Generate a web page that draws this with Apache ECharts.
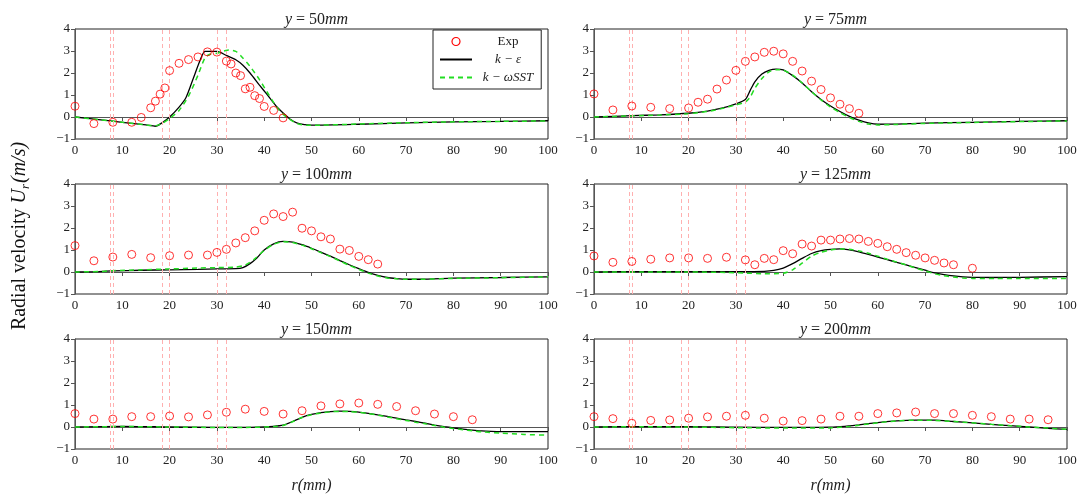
<!DOCTYPE html>
<html>
<head>
<meta charset="utf-8">
<script src="https://cdn.jsdelivr.net/npm/echarts@6/dist/echarts.min.js"></script>
<style>
  html, body { margin: 0; padding: 0; background: #fff; }
  #main { width: 1084px; height: 498px; }
</style>
</head>
<body>
<div id="main"></div>
<script>
// measured planes (mm) and vertical reference lines
var planes = ['50', '75', '100', '125', '150', '200'];
var refLines = [7.5, 8, 18.5, 20, 30, 32];

// experiment points [r, Ur]
var exp50 = [[0,0.49],[4,-0.30],[8,-0.24],[12,-0.24],[14,-0.02],[16,0.42],[17,0.72],[18,1.04],[19,1.32],[20,2.11],[22,2.44],[24,2.61],[26,2.73],[28,2.96],[30,2.95],[32,2.54],[33,2.41],[34,2.00],[35,1.88],[36,1.28],[37,1.35],[38,0.97],[39,0.84],[40,0.48],[42,0.30],[44,-0.04]];
var exp75 = [[0,1.05],[4,0.32],[8,0.50],[12,0.44],[16,0.38],[20,0.41],[22,0.67],[24,0.81],[26,1.27],[28,1.68],[30,2.12],[32,2.53],[34,2.73],[36,2.94],[38,2.99],[40,2.87],[42,2.53],[44,2.09],[46,1.63],[48,1.25],[50,0.87],[52,0.58],[54,0.38],[56,0.17]];
var exp100 = [[0,1.20],[4,0.51],[8,0.68],[12,0.80],[16,0.65],[20,0.74],[24,0.77],[28,0.77],[30,0.89],[32,1.03],[34,1.32],[36,1.56],[38,1.87],[40,2.35],[42,2.64],[44,2.52],[46,2.72],[48,1.99],[50,1.87],[52,1.60],[54,1.50],[56,1.04],[58,0.98],[60,0.71],[62,0.56],[64,0.36]];
var exp125 = [[0,0.73],[4,0.44],[8,0.48],[12,0.58],[16,0.64],[20,0.64],[24,0.62],[28,0.67],[32,0.55],[34,0.33],[36,0.62],[38,0.56],[40,0.97],[42,0.83],[44,1.27],[46,1.18],[48,1.45],[50,1.45],[52,1.50],[54,1.52],[56,1.50],[58,1.39],[60,1.30],[62,1.15],[64,1.03],[66,0.88],[68,0.76],[70,0.64],[72,0.53],[74,0.41],[76,0.33],[80,0.17]];
var exp150 = [[0,0.61],[4,0.36],[8,0.36],[12,0.47],[16,0.47],[20,0.50],[24,0.46],[28,0.55],[32,0.67],[36,0.81],[40,0.71],[44,0.59],[48,0.74],[52,0.96],[56,1.05],[60,1.09],[64,1.03],[68,0.93],[72,0.74],[76,0.59],[80,0.47],[84,0.33]];
var exp200 = [[0,0.47],[4,0.38],[8,0.17],[12,0.30],[16,0.32],[20,0.40],[24,0.46],[28,0.49],[32,0.53],[36,0.40],[40,0.27],[44,0.29],[48,0.36],[52,0.49],[56,0.49],[60,0.61],[64,0.64],[68,0.68],[72,0.61],[76,0.61],[80,0.53],[84,0.47],[88,0.36],[92,0.36],[96,0.33]];

// k-epsilon model
var ke50 = [[0,0],[5,-0.12],[10,-0.24],[15,-0.36],[17,-0.42],[18.5,-0.25],[20,0],[22,0.45],[23.5,0.9],[25,1.75],[26.5,2.6],[27.5,2.98],[30,2.98],[32,2.8],[34,2.6],[35.5,2.35],[37,2.0],[39,1.45],[40.5,1.05],[42.5,0.5],[44,0.18],[45.5,-0.1],[47,-0.28],[48.5,-0.35],[50,-0.37],[60,-0.33],[70,-0.27],[80,-0.22],[90,-0.2],[100,-0.17]];
var ke75 = [[0,0],[8,0.06],[14,0.1],[20,0.17],[24,0.27],[27,0.4],[30,0.6],[32,0.8],[33,1.2],[34,1.6],[35.5,1.95],[37,2.12],[38.5,2.18],[40,2.14],[42,1.88],[44,1.55],[46,1.15],[48,0.8],[50,0.5],[52,0.25],[54,0.03],[56,-0.14],[58,-0.27],[60,-0.33],[64,-0.32],[70,-0.28],[80,-0.24],[90,-0.2],[100,-0.17]];
var ke100 = [[0,0],[5,0.02],[8,0.05],[14,0.08],[20,0.1],[26,0.12],[30,0.14],[34,0.15],[35.5,0.2],[37,0.38],[38.5,0.65],[40,1.0],[42,1.28],[44,1.39],[46,1.36],[48,1.24],[50,1.08],[52,0.9],[54,0.72],[56,0.52],[58,0.33],[60,0.15],[62,-0.02],[64,-0.15],[66,-0.25],[68,-0.3],[70,-0.33],[73,-0.33],[80,-0.28],[90,-0.25],[100,-0.22]];
var ke125 = [[0,0],[10,0.02],[20,0.02],[30,0.02],[36,0.03],[38,0.07],[40,0.18],[42,0.38],[44,0.62],[46,0.84],[48,0.97],[50,1.03],[52,1.05],[54,1.01],[56,0.92],[58,0.8],[60,0.68],[62,0.56],[64,0.44],[66,0.32],[68,0.2],[70,0.08],[72,-0.04],[74,-0.12],[76,-0.18],[78,-0.22],[80,-0.24],[84,-0.25],[90,-0.24],[100,-0.21]];
var ke150 = [[0,0],[10,0.03],[20,0],[30,-0.02],[36,-0.02],[42,0.03],[44,0.08],[46,0.25],[48,0.44],[50,0.57],[52,0.65],[54,0.7],[56,0.72],[58,0.71],[60,0.68],[62,0.62],[64,0.55],[66,0.48],[68,0.4],[70,0.32],[72,0.25],[74,0.17],[76,0.09],[78,0.02],[80,-0.04],[82,-0.1],[84,-0.14],[86,-0.18],[88,-0.2],[90,-0.21],[100,-0.21]];
var ke200 = [[0,0],[10,0.02],[20,0.02],[30,-0.01],[40,-0.02],[50,-0.01],[53,0.03],[56,0.1],[60,0.2],[64,0.28],[68,0.31],[72,0.31],[76,0.25],[80,0.19],[84,0.12],[88,0.06],[92,0],[96,-0.06],[100,-0.11]];

// k-omega SST model
var sst50 = [[0,0],[5,-0.12],[10,-0.24],[15,-0.36],[17,-0.4],[18.5,-0.28],[20,-0.07],[22,0.3],[24,0.95],[26,1.9],[27.5,2.7],[28.5,2.85],[30,2.9],[31.5,3.0],[32.5,3.05],[34,2.98],[35,2.8],[37,2.3],[39,1.7],[41,1.0],[43,0.35],[45,-0.05],[47,-0.3],[49,-0.38],[52,-0.37],[60,-0.32],[70,-0.26],[80,-0.22],[90,-0.2],[100,-0.18]];
var sst75 = [[0,0],[8,0.05],[14,0.09],[20,0.15],[24,0.25],[27,0.38],[30,0.55],[32,0.68],[33,0.9],[34,1.3],[35.5,1.75],[37,2.05],[38.5,2.15],[40,2.13],[42,1.9],[44,1.55],[46,1.15],[48,0.78],[50,0.45],[52,0.2],[54,-0.02],[56,-0.2],[58,-0.32],[60,-0.36],[64,-0.34],[70,-0.29],[80,-0.25],[90,-0.21],[100,-0.18]];
var sst100 = [[0,0],[5,0.02],[8,0.06],[14,0.1],[20,0.14],[26,0.18],[30,0.2],[34,0.22],[36,0.32],[38,0.6],[40,0.98],[42,1.26],[44,1.37],[46,1.34],[48,1.22],[50,1.06],[52,0.88],[54,0.7],[56,0.5],[58,0.3],[60,0.12],[62,-0.05],[64,-0.18],[66,-0.27],[68,-0.31],[70,-0.33],[73,-0.33],[80,-0.29],[90,-0.26],[100,-0.22]];
var sst125 = [[0,0],[10,0],[20,0],[28,-0.02],[32,-0.05],[36,-0.08],[40,-0.06],[42,0.1],[44,0.4],[46,0.72],[48,0.9],[50,1.0],[52,1.05],[54,1.03],[56,0.96],[58,0.85],[60,0.72],[62,0.58],[64,0.45],[66,0.32],[68,0.18],[70,0.05],[72,-0.08],[74,-0.17],[76,-0.23],[78,-0.27],[80,-0.29],[85,-0.3],[90,-0.3],[100,-0.29]];
var sst150 = [[0,0],[10,0.02],[20,0],[30,-0.02],[36,-0.02],[42,0.02],[44,0.07],[46,0.24],[48,0.43],[50,0.56],[52,0.64],[54,0.69],[56,0.71],[58,0.7],[60,0.67],[62,0.61],[64,0.54],[66,0.46],[68,0.38],[70,0.3],[72,0.22],[74,0.15],[76,0.07],[78,-0.01],[80,-0.07],[82,-0.12],[84,-0.17],[86,-0.22],[90,-0.28],[95,-0.34],[100,-0.37]];
var sst200 = [[0,0],[10,0.01],[20,0],[30,-0.03],[40,-0.05],[50,-0.04],[54,0.02],[56,0.08],[60,0.19],[64,0.28],[68,0.31],[72,0.3],[76,0.25],[80,0.19],[84,0.12],[88,0.06],[92,0],[96,-0.05],[100,-0.11]];

var expAll = [exp50, exp75, exp100, exp125, exp150, exp200];
var keAll = [ke50, ke75, ke100, ke125, ke150, ke200];
var sstAll = [sst50, sst75, sst100, sst125, sst150, sst200];

var SERIF = '"Liberation Serif", "DejaVu Serif", serif';
var colLeft = [75, 594];
var rowTop = [29, 184, 339];
var plotW = 473, plotH = 110;
var KE = 'k \u2212 \u03b5', SST = 'k \u2212 \u03c9SST';

var chart = echarts.init(document.getElementById('main'));

var grids = [], xAxes = [], yAxes = [], titles = [], series = [];
for (var i = 0; i < 6; i++) {
  var c = i % 2, r = Math.floor(i / 2);
  grids.push({
    left: colLeft[c], top: rowTop[r], width: plotW, height: plotH,
    show: true, borderColor: '#222', borderWidth: 1, backgroundColor: 'transparent'
  });
  xAxes.push({
    type: 'value', gridIndex: i, min: 0, max: 100, interval: 10,
    name: r === 2 ? 'r(mm)' : '', nameLocation: 'middle', nameGap: 29,
    nameTextStyle: { fontFamily: SERIF, fontStyle: 'italic', fontSize: 16, color: '#222' },
    axisLine: { lineStyle: { color: '#555', width: 1 } },
    axisTick: { length: 4, lineStyle: { color: '#555' } },
    axisLabel: { fontFamily: SERIF, fontSize: 13, color: '#222', margin: 5 },
    splitLine: { show: false }
  });
  yAxes.push({
    type: 'value', gridIndex: i, min: -1, max: 4, interval: 1,
    axisLine: { show: true, lineStyle: { color: '#555', width: 1 } },
    axisTick: { show: true, length: 4, lineStyle: { color: '#555' } },
    axisLabel: { fontFamily: SERIF, fontSize: 13, color: '#222', margin: 5,
      formatter: function (v) { return v < 0 ? '\u2212' + Math.abs(v) : String(v); } },
    splitLine: { show: false }
  });
  titles.push({
    text: '{i|y} = ' + planes[i] + '{i|mm}',
    left: colLeft[c] + plotW / 2, top: rowTop[r] - 22, textAlign: 'center',
    textStyle: {
      fontFamily: SERIF, fontSize: 16, fontWeight: 'normal', color: '#222',
      rich: { i: { fontFamily: SERIF, fontSize: 16, fontStyle: 'italic', color: '#222' } }
    }
  });
  series.push({
    name: 'Exp', type: 'scatter', xAxisIndex: i, yAxisIndex: i, data: expAll[i],
    symbol: 'circle', symbolSize: 8, z: 5,
    itemStyle: { color: 'rgba(255,255,255,0)', borderColor: '#ff0000', borderWidth: 1 },
    markLine: {
      silent: true, symbol: ['none', 'none'], animation: false,
      label: { show: false },
      emphasis: { disabled: true },
      lineStyle: { color: '#ffb0b0', type: [4, 3], width: 1, opacity: 1 },
      data: refLines.map(function (v) { return { xAxis: v }; })
    }
  });
  series.push({
    name: KE, type: 'line', xAxisIndex: i, yAxisIndex: i, data: keAll[i],
    showSymbol: false, symbol: 'none', smooth: 0.25, z: 3,
    itemStyle: { color: '#000' },
    lineStyle: { color: '#000', width: 1.3 }
  });
  series.push({
    name: SST, type: 'line', xAxisIndex: i, yAxisIndex: i, data: sstAll[i],
    showSymbol: false, symbol: 'none', smooth: 0.25, z: 4,
    itemStyle: { color: '#22dd22' },
    lineStyle: { color: '#22dd22', width: 1.5, type: [5, 4] }
  });
}

var hidden = { color: 'transparent', borderColor: 'transparent', borderWidth: 0, opacity: 0 };

chart.setOption({
  animation: false,
  backgroundColor: '#fff',
  title: titles,
  grid: grids,
  xAxis: xAxes,
  yAxis: yAxes,
  legend: {
    data: [
      { name: 'Exp', icon: 'circle', itemStyle: { color: '#ffffff', borderColor: '#ff0000', borderWidth: 1.2, opacity: 1 } },
      { name: KE, itemStyle: hidden },
      { name: SST, itemStyle: hidden }
    ],
    orient: 'vertical', left: 433, top: 30,
    backgroundColor: '#fff', borderColor: '#222', borderWidth: 1, borderRadius: 0,
    padding: [5, 8, 5, 6], itemGap: 5, itemWidth: 32, itemHeight: 8,
    formatter: function (n) { return n === 'Exp' ? '{u|Exp}' : '{i|' + n + '}'; },
    textStyle: {
      fontFamily: SERIF, fontSize: 13, color: '#222', width: 62, align: 'center',
      rich: {
        u: { fontFamily: SERIF, fontSize: 13, color: '#222', width: 62, align: 'center' },
        i: { fontFamily: SERIF, fontSize: 13, fontStyle: 'italic', color: '#222', width: 62, align: 'center' }
      }
    }
  },
  graphic: [{
    type: 'text', x: 20, y: 236, rotation: Math.PI / 2,
    style: {
      text: 'Radial velocity {i|U}{s|r}{i|(m/s)}',
      align: 'center', verticalAlign: 'middle',
      font: '20px ' + SERIF, fill: '#111',
      rich: {
        i: { fontFamily: SERIF, fontSize: 20, fontStyle: 'italic', fill: '#111', lineHeight: 24 },
        s: { fontFamily: SERIF, fontSize: 13, fontStyle: 'italic', fill: '#111', lineHeight: 24, verticalAlign: 'bottom', padding: [0, 1, 0, 0] }
      }
    }
  }],
  series: series
});
</script>
</body>
</html>
